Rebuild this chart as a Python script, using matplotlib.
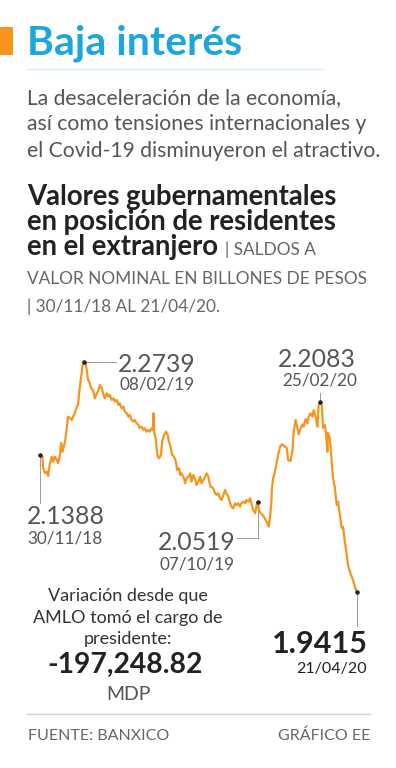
import matplotlib
matplotlib.use("Agg")
import matplotlib.pyplot as plt

# dias desde 30/11/18 y saldo en billones de pesos
dias = [0, 4, 5, 8, 11, 13, 16, 19, 21, 24, 27, 29, 32, 34, 36, 39, 41, 43, 45, 48,
        51, 53, 56, 59, 61, 63, 65, 67, 69, 70, 73, 75, 77, 79, 82, 85,
        88, 91, 94, 96, 99, 102, 104, 107, 110, 112, 115, 118, 120, 123, 126, 128,
        131, 134, 136, 139, 142, 144, 147, 150, 152, 155, 158, 160, 163, 166, 168,
        171, 174, 176, 179, 181, 182, 183, 186, 187,
        189, 191, 194, 196, 199, 202, 204, 207, 210, 212, 215, 218, 220, 223, 225,
        227, 230, 233, 235, 238, 241, 243, 246, 249, 251, 254, 257, 259, 262, 265,
        267, 270, 272, 274, 278,
        281, 283, 286, 289, 291, 294, 297, 299, 302, 305, 307, 310, 313, 315, 318,
        321, 323, 326, 329, 331, 334, 337, 339, 342, 345, 347, 349, 351, 354, 357,
        359, 362, 365, 367, 369, 371, 372, 374, 377, 380, 382,
        385, 388, 390, 393, 396, 398, 402, 405, 407, 410, 413, 415, 418, 421, 423,
        426, 429, 431, 434, 437, 439, 442, 445, 447, 449,
        452, 454, 457, 459, 461, 462, 465, 468, 470, 473, 476, 478, 481, 484, 486,
        489, 492, 494, 497, 500, 502, 505, 508]
saldo = [2.1388, 2.1366, 2.1203, 2.1126, 2.1149, 2.1087, 2.1275, 2.1366, 2.1294, 2.1366,
         2.1319, 2.1271, 2.1391, 2.1564, 2.1438, 2.1535, 2.1636, 2.1781, 2.1944, 2.1925,
         2.1897, 2.1944, 2.1998, 2.2089, 2.2113, 2.2305, 2.2450, 2.2594, 2.2716, 2.2739,
         2.2716, 2.2619, 2.2475, 2.2450, 2.2355, 2.2330,
         2.2210, 2.2282, 2.2330, 2.2402, 2.2355, 2.2258, 2.2210, 2.2282, 2.2233, 2.2258,
         2.2186, 2.2210, 2.2161, 2.2186, 2.2113, 2.2138,
         2.2066, 2.2089, 2.2016, 2.1993, 2.1944, 2.1969, 2.1897, 2.1872, 2.1897, 2.1849,
         2.1824, 2.1777, 2.1800, 2.1752, 2.1777,
         2.1727, 2.1752, 2.1727, 2.1777, 2.1752, 2.1993, 2.1727, 2.1608, 2.1488,
         2.1366, 2.1343, 2.1391, 2.1583, 2.1680, 2.1727, 2.1704, 2.1583, 2.1488, 2.1391,
         2.1366, 2.1294, 2.1174, 2.1199, 2.1102,
         2.1126, 2.1077, 2.0982, 2.1054, 2.1077, 2.1126, 2.1005, 2.1102, 2.1030, 2.0957,
         2.1005, 2.1077, 2.0982, 2.1030, 2.1077,
         2.1126, 2.1077, 2.0982, 2.0933, 2.0910,
         2.0837, 2.0813, 2.0837, 2.0765, 2.0741, 2.0813, 2.0885, 2.0837, 2.0788, 2.0693,
         2.0644, 2.0621, 2.0693, 2.0668, 2.0693,
         2.0644, 2.0693, 2.0716, 2.0693, 2.0741, 2.0716, 2.0765, 2.0693, 2.0596, 2.0548,
         2.0644, 2.0716, 2.0596, 2.0548, 2.0524,
         2.0499, 2.0452, 2.0404, 2.0355, 2.0499, 2.0693, 2.0910, 2.1054, 2.1149, 2.1294,
         2.1391,
         2.1511, 2.1545, 2.1535, 2.1511, 2.1488, 2.1319, 2.1304, 2.1463, 2.1727, 2.1897,
         2.1777, 2.1690, 2.1777, 2.1834, 2.1800,
         2.1911, 2.1849, 2.1944, 2.1993, 2.1944, 2.2041, 2.1944, 2.1800, 2.2113, 2.2161,
         2.2113, 2.1781, 2.1824, 2.1680, 2.1438, 2.1709, 2.1636, 2.1294, 2.1058, 2.0914,
         2.0668, 2.0716, 2.0524, 2.0336, 2.0355,
         2.0138, 1.9946, 1.9801, 1.9704, 1.9632, 1.9585, 1.9488, 1.9415]

# puntos marcados: dia, rotulo y fecha
marcas_dia = [0, 70, 349, 449, 508]
marcas_txt = ["2.1388", "2.2739", "2.0519", "2.2083", "1.9415"]
marcas_fecha = ["30/11/18", "08/02/19", "07/10/19", "25/02/20", "21/04/20"]

titulo = "Baja interés"
subtitulo = ["La desaceleración de la economía,",
             "así como tensiones internacionales y",
             "el Covid-19 disminuyeron el atractivo."]
encabezado = ["Valores gubernamentales", "en posición de residentes", "en el extranjero"]
nota = ["| SALDOS A", "VALOR NOMINAL EN BILLONES DE PESOS", "| 30/11/18 AL 21/04/20."]
variacion = ["Variación desde que", "AMLO tomó el cargo de", "presidente:"]
variacion_valor = "-197,248.82"
variacion_unidad = "MDP"
fuente = "FUENTE: BANXICO"
credito = "GRÁFICO EE"

W, H = 396, 768
NARANJA = "#F7941D"
AZUL = "#1BA6E1"
GRIS = "#555555"
LINEA = "#9a9a9a"

plt.rcParams["font.family"] = ["Lato", "DejaVu Sans"]

fig = plt.figure(figsize=(W / 100, H / 100), dpi=100)
fig.patch.set_facecolor("white")


def txt(x, y, s, size, weight="normal", color=GRIS, ha="left"):
    # x, y en pixeles de la imagen (y = linea base)
    return fig.text(x / W, 1 - y / H, s, fontsize=size, fontweight=weight, color=color,
                    ha=ha, va="baseline")


# cabecera
fig.patches.append(plt.Rectangle((0, 1 - 55 / H), 13 / W, 28 / H, transform=fig.transFigure,
                                 color=NARANJA, lw=0))
txt(27, 55, titulo, 29.5, "bold", AZUL)
fig.add_artist(plt.Line2D([27 / W, 322 / W], [1 - 69 / H] * 2, color="#d5eef9", lw=1))
for i, linea in enumerate(subtitulo):
    txt(27, 104 + i * 26.5, linea, 15.2, "normal", GRIS)
ultimo = None
for i, linea in enumerate(encabezado):
    ultimo = txt(27, 205 + i * 25, linea, 19.8, "bold", "#222222")
r = fig.canvas.get_renderer()
fin = ultimo.get_window_extent(r).x1
txt(fin + 7, 255, nota[0], 12.4, "normal", "#666666")
txt(27, 284, nota[1], 12.4, "normal", "#666666")
txt(27, 312, nota[2], 12.4, "normal", "#666666")

# grafica de linea
x0, x1, ytop, ybot = 40, 356.7, 361.7, 591.7
ax = fig.add_axes([x0 / W, 1 - ybot / H, (x1 - x0) / W, (ybot - ytop) / H])
ax.set_xlim(0, 508)
ax.set_ylim(1.9415, 2.2739)
ax.axis("off")
ax.plot(dias, saldo, color=NARANJA, lw=1.6, clip_on=False, zorder=2, solid_joinstyle="round")

px_dia = (x1 - x0) / 508
px_val = (ybot - ytop) / (2.2739 - 1.9415)


def guia(d, v, pasos):
    # linea guia desde el punto, pasos en pixeles (dx, dy hacia abajo)
    xs, ys = [d], [v]
    for dx, dy in pasos:
        xs.append(xs[-1] + dx / px_dia)
        ys.append(ys[-1] - dy / px_val)
    ax.plot(xs, ys, color=LINEA, lw=0.7, clip_on=False, zorder=1)


valores = [saldo[dias.index(d)] for d in marcas_dia]
guia(marcas_dia[0], valores[0], [(0, 48)])
guia(marcas_dia[1], valores[1], [(32, 0)])
guia(marcas_dia[2], valores[2], [(0, 36), (-21, 0)])
guia(marcas_dia[3], valores[3], [(0, -9)])
guia(marcas_dia[4], valores[4], [(0, 34)])
ax.scatter(marcas_dia, valores, s=5, color="#222222", zorder=3, clip_on=False)

txt(27, 524, marcas_txt[0], 17.8, "normal", GRIS)
txt(27, 543, marcas_fecha[0], 12.3, "normal", GRIS)
txt(118, 372, marcas_txt[1], 17.8, "normal", GRIS)
txt(120, 390, marcas_fecha[1], 12.3, "normal", GRIS)
txt(236, 550, marcas_txt[2], 17.8, "normal", GRIS, "right")
txt(235, 569, marcas_fecha[2], 12.3, "normal", GRIS, "right")
txt(356, 367, marcas_txt[3], 17.8, "normal", GRIS, "right")
txt(357, 386, marcas_fecha[3], 12.3, "normal", GRIS, "right")
txt(368, 653, marcas_txt[4], 22, "bold", "#222222", "right")
txt(367, 673, marcas_fecha[4], 11.5, "normal", "#222222", "right")

# variacion
for i, linea in enumerate(variacion):
    txt(128, 601 + i * 21.5, linea, 13, "normal", "#333333", "center")
txt(125, 673, variacion_valor, 20.3, "bold", "#222222", "center")
txt(129, 700, variacion_unidad, 14, "normal", GRIS, "center")

# pie
fig.add_artist(plt.Line2D([27 / W, 370 / W], [1 - 714 / H] * 2, color="#d0d0d0", lw=1))
txt(28, 740, fuente, 11.5, "normal", "#666666")
txt(370, 740, credito, 11.5, "normal", "#666666", "right")

fig.savefig("out.png", dpi=100)
